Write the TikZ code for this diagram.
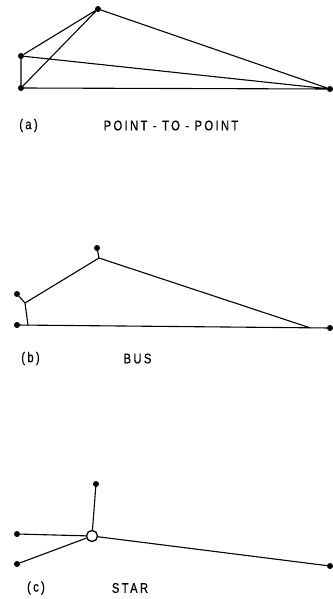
\documentclass[tikz,border=0pt]{standalone}
\usepackage{fontspec}
\newfontfamily\lblfont[LetterSpace=17,FakeStretch=0.8,FakeBold=0.6]{Liberation Sans}
\begin{document}
\begin{tikzpicture}[x=1pt,y=-1pt,
  dot/.style={circle,fill=black,inner sep=0pt,minimum size=6pt},
  hub/.style={circle,draw=black,fill=white,line width=1.3pt,inner sep=0pt,minimum size=11pt},
  wire/.style={line width=1.1pt,line cap=round,line join=round},
  lbl/.style={inner sep=0pt,font=\lblfont\fontsize{14}{16}\selectfont}]
\useasboundingbox (0,0) rectangle (332,599);
% (a) point-to-point
\node[dot] (a1) at (98,9) {};
\node[dot] (a2) at (21,56) {};
\node[dot] (a3) at (21,88) {};
\node[dot] (a4) at (330,89) {};
\draw[wire] (a1) -- (a2) (a1) -- (a3) (a1) -- (a4)
            (a2) -- (a3) (a2) -- (a4) (a3) -- (a4);
\node[lbl] (la) at (28.5,125.5) {(a)};
\node[lbl] (ta) at (171,125.5) {POINT - TO - POINT};
% (b) bus
\node[dot] (b1) at (97,248) {};
\node[dot] (b2) at (17,294) {};
\node[dot] (b3) at (17,325) {};
\node[dot] (b4) at (330,328) {};
\coordinate (j1) at (99,258);
\coordinate (j2) at (25,303);
\coordinate (t2) at (28,325.1);
\coordinate (t1) at (310,327.8);
\draw[wire] (b3) -- (b4);
\draw[wire] (b1) -- (j1) -- (t1);
\draw[wire] (b2) -- (j2) -- (t2);
\draw[wire] (j1) -- (j2);
\node[lbl] (lb) at (30.5,358.5) {(b)};
\node[lbl] (tb) at (137.5,358.5) {BUS};
% (c) star
\node[hub] (h) at (92,536) {};
\node[dot] (c1) at (96,484) {};
\node[dot] (c2) at (17,534) {};
\node[dot] (c3) at (17,564) {};
\node[dot] (c4) at (330,566) {};
\draw[wire] (h) -- (c1) (h) -- (c2) (h) -- (c3) (h) -- (c4);
\node[lbl] (lc) at (36,588) {(c)};
\node[lbl] (tc) at (130,588) {STAR};
\end{tikzpicture}
\end{document}
